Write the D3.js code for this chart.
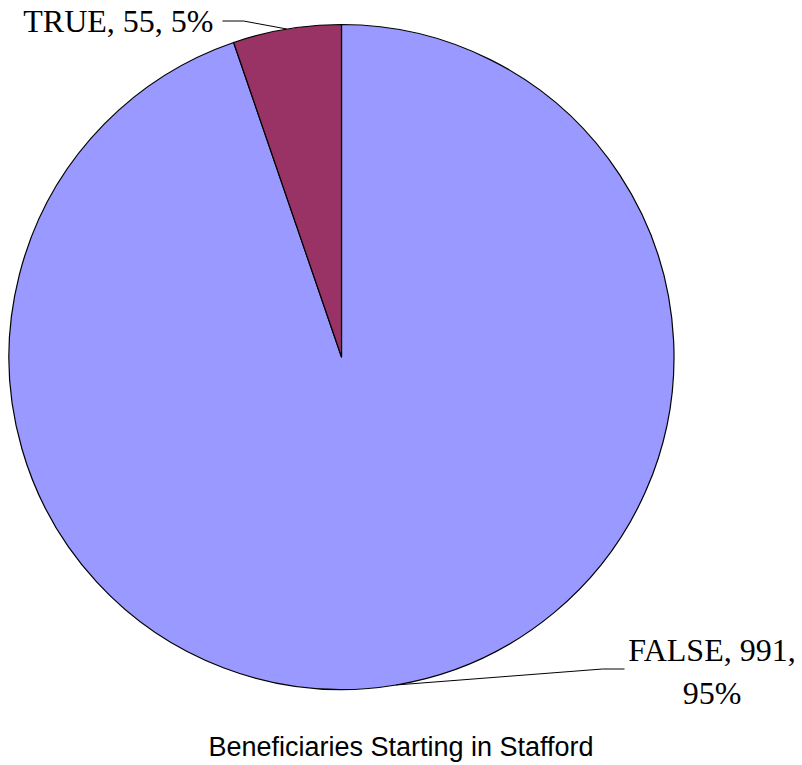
<!DOCTYPE html>
<html>
<head>
<meta charset="utf-8">
<script src="https://cdn.jsdelivr.net/npm/d3@7"></script>
<style>
  body { margin: 0; background: #fff; }
  svg { display: block; }
</style>
</head>
<body>
<div class="graph"></div>
<script>
'use strict'

// chart data
const categories = ['FALSE', 'TRUE']
const counts = [991, 55]
const sliceColors = ['#9999FF', '#993366']
const chartTitle = 'Beneficiaries Starting in Stafford'

const width = 802,
  height = 765
const cx = 341.5,
  cy = 357,
  radius = 332.5

const svg = d3.select('.graph').append('svg')
  .attr('width', width)
  .attr('height', height)

const total = d3.sum(counts)
const data = categories.map((c, i) => ({ name: c, value: counts[i] }))

const pie = d3.pie().sort(null).value(d => d.value)
const arc = d3.arc().innerRadius(0).outerRadius(radius)
const arcs = pie(data)

const color = d3.scaleOrdinal().domain(categories).range(sliceColors)

const g = svg.append('g').attr('transform', `translate(${cx},${cy})`)

g.selectAll('path')
  .data(arcs)
  .join('path')
  .attr('d', arc)
  .attr('fill', d => color(d.data.name))
  .attr('stroke', '#000')
  .attr('stroke-width', 1.2)
  .attr('stroke-linejoin', 'round')

// point on the rim at the middle of a slice
function rimPoint(d) {
  const a = (d.startAngle + d.endAngle) / 2
  return [radius * Math.sin(a), -radius * Math.cos(a)]
}

const pct = v => Math.round(v / total * 100) + '%'

// label placement (relative to pie center)
const labelPos = {
  TRUE: { elbow: [-98, -336], end: [-119, -336], text: [-128, -325], anchor: 'end', lines: 1 },
  FALSE: { elbow: [261, 312], end: [283, 312], text: [370.5, 304], anchor: 'middle', lines: 2 }
}

const labels = g.append('g')
  .style('font-family', '"Liberation Serif", "Times New Roman", serif')
  .style('font-size', '32px')

arcs.forEach(d => {
  const p = labelPos[d.data.name]
  const rim = rimPoint(d)
  labels.append('polyline')
    .attr('points', [rim, p.elbow, p.end].map(q => q.join(',')).join(' '))
    .attr('fill', 'none')
    .attr('stroke', '#000')
    .attr('stroke-width', 1)

  const txt = labels.append('text')
    .attr('x', p.text[0])
    .attr('y', p.text[1])
    .attr('text-anchor', p.anchor)
  const full = `${d.data.name}, ${d.data.value}, ${pct(d.data.value)}`
  if (p.lines === 1) {
    txt.text(full)
  } else {
    txt.append('tspan').attr('x', p.text[0]).text(`${d.data.name}, ${d.data.value},`)
    txt.append('tspan').attr('x', p.text[0]).attr('dy', 43).text(pct(d.data.value))
  }
})

svg.append('text')
  .attr('x', 401)
  .attr('y', 756)
  .attr('text-anchor', 'middle')
  .style('font-family', '"Liberation Sans", Arial, sans-serif')
  .style('font-size', '27px')
  .text(chartTitle)
</script>
</body>
</html>
